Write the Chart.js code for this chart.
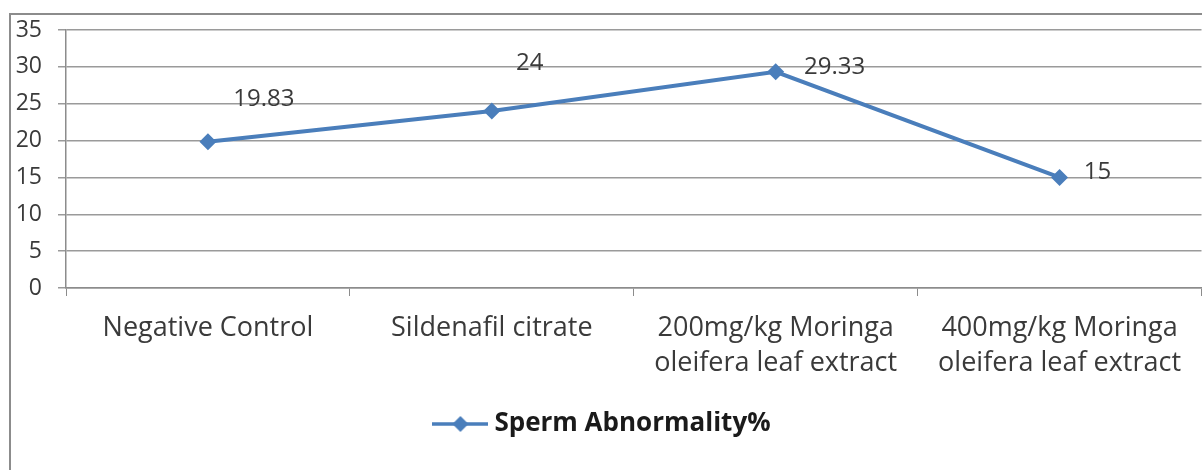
<!DOCTYPE html>
<html>
<head>
<meta charset="utf-8">
<script src="https://cdn.jsdelivr.net/npm/chart.js@4.4.1/dist/chart.umd.min.js"></script>
<style>
    html, body { margin: 0; padding: 0; background: #fff; }
    #wrap { position: relative; width: 1202px; height: 470px; overflow: hidden; }
    #marco {
        position: absolute; left: 9px; top: 13px; right: -5px; bottom: -5px;
        border-left: 2px solid #8c8c8c; border-top: 2px solid #8c8c8c;
    }
    canvas { position: absolute; left: 0; top: 0; }
</style>
</head>
<body>
<div id="wrap">
    <div id="marco"></div>
    <!-- el lienzo es un poco mas ancho: Chart.js deja ~8px a la derecha y el original llega al borde -->
    <canvas id="chartAnormalidad" width="1210" height="470"></canvas>
</div>
<script>
const grupos = [
    ['Negative Control'],
    ['Sildenafil citrate'],
    ['200mg/kg Moringa', 'oleifera leaf extract'],
    ['400mg/kg Moringa', 'oleifera leaf extract']
];
const anormalidad = [19.83, 24, 29.33, 15];
const etiquetas = ['19.83', '24', '29.33', '15'];
const ticksY = [0, 5, 10, 15, 20, 25, 30, 35];

const fuente = "'Open Sans', sans-serif";
const azul = '#4a7ebb';
const texto = '#3a3a3a';

// desplazamiento manual de cada etiqueta (como en el original de Excel)
const desplazamientos = [[56, -43], [38, -48], [59, -5], [38, -5]];

const etiquetasPlugin = {
    id: 'etiquetas',
    afterDatasetsDraw(chart) {
        const ctx = chart.ctx;
        const meta = chart.getDatasetMeta(0);
        ctx.save();
        ctx.font = "24px " + fuente;
        ctx.fillStyle = texto;
        ctx.textAlign = 'center';
        ctx.textBaseline = 'middle';
        meta.data.forEach((p, i) => {
            const d = desplazamientos[i];
            ctx.fillText(etiquetas[i], p.x + d[0], p.y + d[1]);
        });
        ctx.restore();
    }
};

// icono de leyenda: linea con rombo
const icono = document.createElement('canvas');
icono.width = 56;
icono.height = 18;
(() => {
    const c = icono.getContext('2d');
    c.strokeStyle = azul;
    c.lineWidth = 3.5;
    c.beginPath();
    c.moveTo(0, 9);
    c.lineTo(56, 9);
    c.stroke();
    c.fillStyle = azul;
    c.beginPath();
    c.moveTo(28, 1);
    c.lineTo(36, 9);
    c.lineTo(28, 17);
    c.lineTo(20, 9);
    c.closePath();
    c.fill();
})();

window.chartAnormalidad = new Chart(document.getElementById('chartAnormalidad'), {
    type: 'line',
    data: {
        labels: grupos,
        datasets: [{
            label: 'Sperm Abnormality%',
            data: anormalidad,
            borderColor: azul,
            backgroundColor: azul,
            borderWidth: 4,
            pointStyle: 'rectRot',
            pointRadius: 8.5,
            pointHoverRadius: 8.5,
            pointBorderWidth: 0,
            tension: 0
        }]
    },
    options: {
        responsive: false,
        animation: false,
        layout: { padding: { top: 30, right: 0, bottom: 23, left: 0 } },
        plugins: {
            tooltip: { enabled: false },
            legend: {
                position: 'bottom',
                labels: {
                    usePointStyle: true,
                    pointStyle: icono,
                    pointStyleWidth: 42,
                    color: '#1a1a1a',
                    font: { family: fuente, size: 26, weight: 'bold' },
                    padding: 0
                }
            }
        },
        scales: {
            x: {
                offset: true,
                afterFit: s => {
                    s.height = 123;
                    s.paddingLeft = 0;
                    s.paddingRight = 0;
                },
                grid: {
                    offset: true,
                    drawOnChartArea: false,
                    color: '#8c8c8c',
                    tickLength: 8
                },
                border: { color: '#8c8c8c', width: 1.5 },
                ticks: {
                    color: texto,
                    padding: 15,
                    maxRotation: 0,
                    autoSkip: false,
                    font: { family: fuente, size: 27, lineHeight: 1.28 }
                }
            },
            y: {
                min: 0,
                max: 35,
                afterBuildTicks: s => { s.ticks = ticksY.map(v => ({ value: v })); },
                afterFit: s => { s.width = 66; },
                grid: { color: '#9a9a9a', lineWidth: 1.5, tickLength: 8 },
                border: { color: '#8c8c8c', width: 1.5 },
                ticks: {
                    color: texto,
                    padding: 16,
                    font: { family: fuente, size: 23 }
                }
            }
        }
    },
    plugins: [etiquetasPlugin]
});
</script>
</body>
</html>
